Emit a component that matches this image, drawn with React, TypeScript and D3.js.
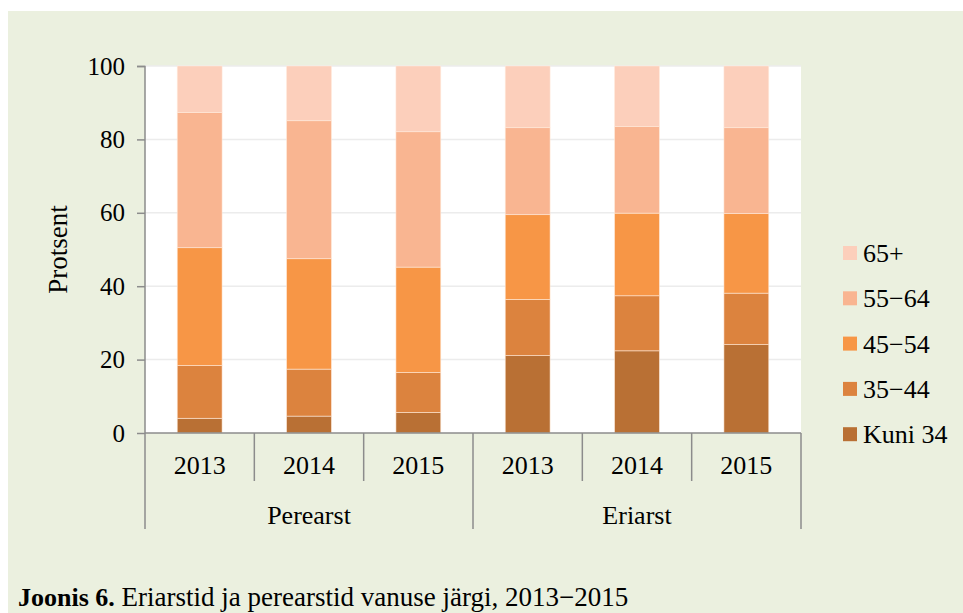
import React, { useEffect, useRef } from 'react';
import * as d3 from 'd3';

const groups = ['Perearst', 'Eriarst'];
const years = ['2013', '2014', '2015'];
const ageGroups = ['Kuni 34', '35−44', '45−54', '55−64', '65+'];
const colors = ['#b97034', '#dc833e', '#f79646', '#f9b591', '#fccfbb'];

const kuni34 = [4.0, 4.6, 5.6, 21.1, 22.4, 24.1];
const age3544 = [14.4, 12.8, 10.9, 15.3, 15.0, 14.0];
const age4554 = [32.1, 30.1, 28.7, 23.1, 22.5, 21.7];
const age5564 = [36.8, 37.6, 36.9, 23.7, 23.6, 23.4];
const age65 = [12.7, 14.9, 17.9, 16.8, 16.5, 16.8];
const yTicks = [0, 20, 40, 60, 80, 100];

const W = 963;
const H = 613;
const margin = { left: 145, right: 162, top: 66, bottom: 180 };
const FONT = '"Liberation Serif", "Times New Roman", serif';

export default function App() {
  const svgRef = useRef<SVGSVGElement>(null);

  useEffect(() => {
    const svg = d3.select(svgRef.current);
    svg.selectAll('*').remove();

    const innerW = W - margin.left - margin.right;
    const innerH = H - margin.top - margin.bottom;

    const keys = groups.flatMap((g) => years.map((y) => `${g}|${y}`));
    const series = [kuni34, age3544, age4554, age5564, age65];
    const rows = keys.map((k, i) => {
      const row: any = { key: k };
      ageGroups.forEach((a, j) => (row[a] = series[j][i]));
      return row;
    });
    const stacked = d3.stack().keys(ageGroups)(rows);

    const x = d3.scaleBand().domain(keys).range([0, innerW]);
    const groupX = d3.scaleBand().domain(groups).range([0, innerW]);
    const y = d3.scaleLinear().domain([0, 100]).range([innerH, 0]);
    const barW = x.bandwidth() * 0.41;

    // backgrounds
    svg.append('rect').attr('width', W).attr('height', H).attr('fill', '#ffffff');
    svg.append('rect').attr('x', 8).attr('y', 11).attr('width', W - 8).attr('height', H - 11).attr('fill', '#ebf0df');

    const g = svg.append('g').attr('transform', `translate(${margin.left},${margin.top})`);
    g.append('rect').attr('width', innerW).attr('height', innerH).attr('fill', '#ffffff');

    // grid
    g.selectAll('.grid')
      .data(yTicks.filter((t) => t > 0))
      .enter()
      .append('line')
      .attr('x1', 0)
      .attr('x2', innerW)
      .attr('y1', (d) => y(d))
      .attr('y2', (d) => y(d))
      .attr('stroke', '#ececec')
      .attr('stroke-width', 1.5);

    // bars
    g.selectAll('.layer')
      .data(stacked)
      .enter()
      .append('g')
      .attr('fill', (d, i) => colors[i])
      .selectAll('rect')
      .data((d) => d)
      .enter()
      .append('rect')
      .attr('x', (d: any) => (x(d.data.key) as number) + (x.bandwidth() - barW) / 2)
      .attr('width', barW)
      .attr('y', (d) => y(d[1]))
      .attr('height', (d) => y(d[0]) - y(d[1]))
      .attr('stroke', 'rgba(255,235,220,0.7)')
      .attr('stroke-width', 0.8);

    // y axis
    const yAxis = d3.axisLeft(y).tickValues(yTicks).tickSize(8).tickPadding(12);
    const ya = g.append('g').call(yAxis).attr('font-family', null).attr('font-size', null);
    ya.selectAll('path,line').attr('stroke', '#8c8c8c').attr('stroke-width', 1.5);
    ya.select('.domain').attr('d', `M-8,0.5H0V${innerH}`);
    ya.selectAll('text')
      .style('font-family', FONT)
      .style('font-size', '25px')
      .attr('fill', '#000');

    // x axis baseline
    g.append('line')
      .attr('x1', 0)
      .attr('x2', innerW)
      .attr('y1', innerH)
      .attr('y2', innerH)
      .attr('stroke', '#8c8c8c')
      .attr('stroke-width', 1.5);

    // year separators
    const bounds = keys.map((k) => x(k) as number).concat([innerW]);
    g.selectAll('.sep')
      .data(bounds)
      .enter()
      .append('line')
      .attr('x1', (d) => d)
      .attr('x2', (d) => d)
      .attr('y1', innerH)
      .attr('y2', (d, i) => (i % 3 === 0 ? innerH + 96 : innerH + 48))
      .attr('stroke', '#8c8c8c')
      .attr('stroke-width', 1.5);

    g.selectAll('.year')
      .data(keys)
      .enter()
      .append('text')
      .attr('x', (d) => (x(d) as number) + x.bandwidth() / 2)
      .attr('y', innerH + 41)
      .attr('text-anchor', 'middle')
      .style('font-family', FONT)
      .style('font-size', '26px')
      .text((d) => d.split('|')[1]);

    g.selectAll('.group')
      .data(groups)
      .enter()
      .append('text')
      .attr('x', (d) => (groupX(d) as number) + groupX.bandwidth() / 2)
      .attr('y', innerH + 91)
      .attr('text-anchor', 'middle')
      .style('font-family', FONT)
      .style('font-size', '26px')
      .text((d) => d);

    // y label
    svg.append('text')
      .attr('transform', `translate(67,${margin.top + innerH / 2}) rotate(-90)`)
      .attr('text-anchor', 'middle')
      .style('font-family', FONT)
      .style('font-size', '27px')
      .text('Protsent');

    // legend
    const legendOrder = [...ageGroups].reverse();
    const lg = svg.append('g').attr('transform', 'translate(843,253)');
    legendOrder.forEach((a, i) => {
      const row = lg.append('g').attr('transform', `translate(0,${i * 45.3})`);
      row.append('rect')
        .attr('x', 0)
        .attr('y', -7)
        .attr('width', 14)
        .attr('height', 14)
        .attr('fill', colors[ageGroups.indexOf(a)]);
      row.append('text')
        .attr('x', 20)
        .attr('y', 9)
        .style('font-family', FONT)
        .style('font-size', '26px')
        .text(a);
    });

    // caption
    const cap = svg.append('text')
      .attr('x', 18)
      .attr('y', 606)
      .style('font-family', FONT)
      .style('font-size', '26px');
    cap.append('tspan').attr('font-weight', 'bold').text('Joonis 6.');
    cap.append('tspan').style('font-size', '27px').text(' Eriarstid ja perearstid vanuse järgi, 2013−2015');
  }, []);

  return (
    <svg
      ref={svgRef}
      width={W}
      height={H}
      style={{ position: 'absolute', left: 0, top: 0, display: 'block' }}
    />
  );
}
